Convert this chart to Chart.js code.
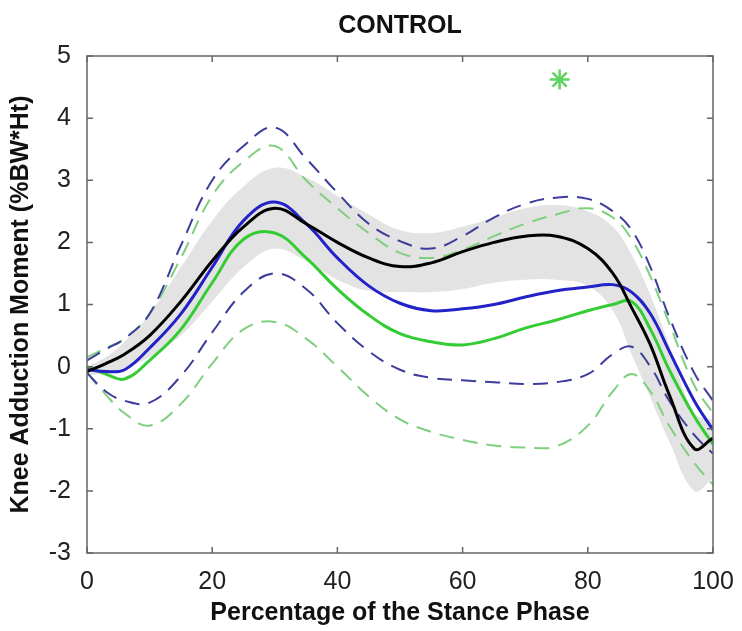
<!DOCTYPE html>
<html>
<head>
<meta charset="utf-8">
<script src="https://cdn.jsdelivr.net/npm/chart.js@4.4.1/dist/chart.umd.min.js"></script>
<style>
  html, body { margin: 0; padding: 0; background: #fff; }
  #wrap { width: 742px; height: 631px; }
</style>
</head>
<body>
<div id="wrap"><canvas id="chart" width="742" height="631"></canvas></div>
<script>
// Stützstellen (Prozent der Standphase)
const xs = [0, 3, 6, 10, 15, 20, 25, 30, 35, 40, 45, 50, 55, 60, 65, 70, 75, 80, 84, 87, 90, 93, 97, 100];

// Kontrollgruppe: Mittelwert + graues Band
const controlMean  = [-0.08, 0.05, 0.2, 0.5, 1.05, 1.7, 2.25, 2.55, 2.3, 2.0, 1.75, 1.61, 1.67, 1.85, 2.0, 2.1, 2.1, 1.9, 1.5, 0.95, 0.35, -0.45, -1.32, -1.15];
const controlUpper = [0.0, 0.15, 0.4, 0.85, 1.6, 2.35, 2.9, 3.2, 3.05, 2.75, 2.45, 2.2, 2.15, 2.25, 2.4, 2.55, 2.6, 2.5, 2.25, 1.8, 1.15, 0.35, -0.75, -0.85];
const controlLower = [-0.15, -0.1, -0.02, 0.15, 0.5, 1.05, 1.6, 1.9, 1.7, 1.4, 1.22, 1.2, 1.2, 1.25, 1.35, 1.4, 1.4, 1.3, 0.9, 0.2, -0.5, -1.2, -2.0, -1.8];

// blaue Gruppe
const blueMean  = [-0.05, -0.08, -0.05, 0.3, 0.85, 1.6, 2.35, 2.65, 2.3, 1.75, 1.3, 1.02, 0.9, 0.93, 1.0, 1.12, 1.22, 1.28, 1.32, 1.2, 0.85, 0.25, -0.55, -1.02];
const blueUpper = [0.1, 0.28, 0.45, 0.85, 1.95, 3.0, 3.55, 3.85, 3.35, 2.8, 2.3, 2.02, 1.9, 2.1, 2.4, 2.62, 2.72, 2.7, 2.5, 2.2, 1.6, 0.8, -0.1, -0.55];
const blueLower = [-0.1, -0.4, -0.55, -0.58, -0.15, 0.55, 1.2, 1.5, 1.25, 0.7, 0.25, -0.05, -0.18, -0.22, -0.25, -0.28, -0.25, -0.12, 0.2, 0.32, 0.0, -0.55, -1.1, -1.4];

// grüne Gruppe
const greenMean  = [0.0, -0.12, -0.2, 0.1, 0.6, 1.35, 2.05, 2.15, 1.75, 1.25, 0.83, 0.53, 0.4, 0.35, 0.45, 0.62, 0.75, 0.9, 1.0, 1.05, 0.6, -0.05, -0.8, -1.25];
const greenUpper = [0.15, 0.3, 0.45, 0.85, 1.75, 2.75, 3.3, 3.55, 3.0, 2.55, 2.15, 1.83, 1.75, 1.88, 2.1, 2.3, 2.45, 2.55, 2.4, 2.05, 1.45, 0.7, -0.3, -0.75];
const greenLower = [-0.1, -0.45, -0.75, -0.95, -0.6, 0.05, 0.6, 0.72, 0.45, 0.0, -0.48, -0.85, -1.05, -1.18, -1.27, -1.3, -1.28, -0.95, -0.4, -0.12, -0.4, -0.95, -1.55, -1.9];

// Signifikanz-Stern
const starX = [75.5];
const starY = [4.62];

const xTicks = [0, 20, 40, 60, 80, 100];
const yTicks = [-3, -2, -1, 0, 1, 2, 3, 4, 5];

const pts = arr => xs.map((x, i) => ({ x: x, y: arr[i] }));

const solid = (label, arr, color, order) => ({
  label: label, data: pts(arr), borderColor: color, borderWidth: 3,
  pointRadius: 0, fill: false, tension: 0.4, order: order
});
const dashed = (label, arr, color, order) => ({
  label: label, data: pts(arr), borderColor: color, borderWidth: 2,
  borderDash: [15, 9], pointRadius: 0, fill: false, tension: 0.4, order: order
});

// Rahmen + Ticks nach innen (wie MATLAB)
const boxPlugin = {
  id: 'box',
  afterDraw(chart) {
    const { ctx, chartArea: a, scales } = chart;
    ctx.save();
    ctx.strokeStyle = '#666';
    ctx.lineWidth = 1.5;
    ctx.strokeRect(a.left, a.top, a.right - a.left, a.bottom - a.top);
    ctx.beginPath();
    xTicks.forEach(v => {
      const px = scales.x.getPixelForValue(v);
      ctx.moveTo(px, a.bottom); ctx.lineTo(px, a.bottom - 6);
      ctx.moveTo(px, a.top); ctx.lineTo(px, a.top + 6);
    });
    yTicks.forEach(v => {
      const py = scales.y.getPixelForValue(v);
      ctx.moveTo(a.left, py); ctx.lineTo(a.left + 6, py);
      ctx.moveTo(a.right, py); ctx.lineTo(a.right - 6, py);
    });
    ctx.stroke();
    ctx.restore();
  }
};

const ctx = document.getElementById('chart').getContext('2d');
new Chart(ctx, {
  type: 'line',
  data: {
    datasets: [
      { label: 'star', type: 'scatter', data: starX.map((x, i) => ({ x: x, y: starY[i] })),
        pointStyle: 'star', pointRadius: 10, borderColor: '#5fd35f', borderWidth: 2.5, order: 0 },
      solid('control', controlMean, '#000000', 1),
      solid('blue', blueMean, '#2222c8', 2),
      solid('green', greenMean, '#33cc33', 3),
      dashed('blue +', blueUpper, '#3d3d9c', 4),
      dashed('blue -', blueLower, '#3d3d9c', 5),
      dashed('green +', greenUpper, '#7fcf7f', 6),
      dashed('green -', greenLower, '#7fcf7f', 7),
      { label: 'band +', data: pts(controlUpper), borderWidth: 0, pointRadius: 0,
        backgroundColor: 'rgba(185,185,185,0.4)', fill: '+1', tension: 0.4, order: 8 },
      { label: 'band -', data: pts(controlLower), borderWidth: 0, pointRadius: 0,
        fill: false, tension: 0.4, order: 9 }
    ]
  },
  options: {
    responsive: false,
    animation: false,
    layout: { padding: { right: 29 } },
    plugins: {
      legend: { display: false },
      tooltip: { enabled: false },
      title: {
        display: true, text: 'CONTROL', color: '#111', fullSize: false,
        font: { family: 'Liberation Sans', size: 25, weight: 'bold', lineHeight: 1.2 },
        padding: { top: 11, bottom: 15 }
      }
    },
    scales: {
      x: {
        type: 'linear', min: 0, max: 100,
        afterBuildTicks: s => { s.ticks = xTicks.map(v => ({ value: v })); },
        afterFit: s => { s.height = 78; },
        grid: { display: false }, border: { display: false },
        ticks: { color: '#222', padding: 6, maxRotation: 0,
                 font: { family: 'Liberation Sans', size: 25 } },
        title: { display: true, text: 'Percentage of the Stance Phase', color: '#111',
                 font: { family: 'Liberation Sans', size: 25, weight: 'bold', lineHeight: 1.2 },
                 padding: { top: 0, bottom: 3 } }
      },
      y: {
        min: -3, max: 5,
        afterBuildTicks: s => { s.ticks = yTicks.map(v => ({ value: v })); },
        afterFit: s => { s.width = 87; },
        grid: { display: false }, border: { display: false },
        ticks: { color: '#222', padding: 8,
                 font: { family: 'Liberation Sans', size: 25 } },
        title: { display: true, text: 'Knee Adduction Moment (%BW*Ht)', color: '#111',
                 font: { family: 'Liberation Sans', size: 25, weight: 'bold', lineHeight: 1.2 },
                 padding: { top: 6, bottom: 0 } }
      }
    }
  },
  plugins: [boxPlugin]
});
</script>
</body>
</html>
